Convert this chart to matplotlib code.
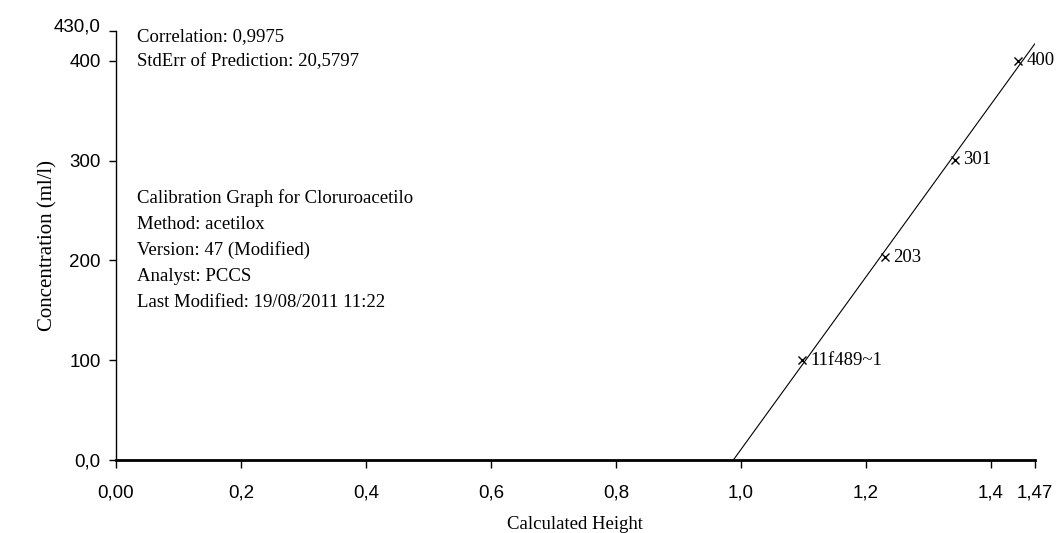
import numpy as np
import matplotlib
matplotlib.use("Agg")
import matplotlib.pyplot as plt

# calibration standards: calculated height vs concentration
heights = [1.097, 1.230, 1.342, 1.443]
concs = [100, 203, 301, 400]
names = ["11f489~1", "203", "301", "400"]

xticks = [0.0, 0.2, 0.4, 0.6, 0.8, 1.0, 1.2, 1.4, 1.47]
xticklabels = ["0,00", "0,2", "0,4", "0,6", "0,8", "1,0", "1,2", "1,4", "1,47"]
yticks = [0, 100, 200, 300, 400, 430]
yticklabels = ["0,0", "100", "200", "300", "400", "430,0"]

info_top = ["Correlation: 0,9975", "StdErr of Prediction: 20,5797"]
info_mid = ["Calibration Graph for Cloruroacetilo", "Method: acetilox",
            "Version: 47 (Modified)", "Analyst: PCCS",
            "Last Modified: 19/08/2011 11:22"]

serif = ["Liberation Serif", "DejaVu Serif"]
sans = ["Liberation Sans", "DejaVu Sans"]

fig = plt.figure(figsize=(10.58, 5.33), dpi=100)
ax = fig.add_axes([0.1096, 0.137, 0.978 - 0.1096, 0.9418 - 0.137])

slope, icpt = np.polyfit(heights, concs, 1)
x0 = -icpt / slope
ax.plot([x0, 1.47], [0, slope * 1.47 + icpt], color="black", lw=0.8)

ax.plot(heights, concs, linestyle="none", marker="x", ms=6, mew=1, color="black")
for h, c, n in zip(heights, concs, names):
    ax.annotate(n, (h, c), xytext=(6, 0), textcoords="offset points",
                ha="left", va="center", fontsize=13.5, family=serif)

ax.set_xlim(0, 1.47)
ax.set_ylim(0, 430)
ax.set_xticks(xticks)
ax.set_xticklabels(xticklabels, family=sans, fontsize=13.5)
ax.set_yticks(yticks)
ax.set_yticklabels(yticklabels, family=sans, fontsize=13.5)
ax.tick_params(axis="x", direction="out", length=6, width=1, pad=12)
ax.tick_params(axis="y", direction="out", length=5, width=1, pad=6)
# top label sits a little above its tick in the reference
ax.get_yticklabels()[-1].set_va("baseline")

for s in ["top", "right"]:
    ax.spines[s].set_visible(False)
ax.spines["bottom"].set_linewidth(2)
ax.spines["left"].set_linewidth(1)

ax.set_xlabel("Calculated Height", family=serif, fontsize=13.5, labelpad=10)
ax.set_ylabel("Concentration (ml/l)", family=serif, fontsize=15, labelpad=-3)

for i, t in enumerate(info_top):
    ax.text(0.023, 0.986 - i * 0.058, t, transform=ax.transAxes,
            ha="left", va="center", fontsize=13.5, family=serif)
for i, t in enumerate(info_mid):
    ax.text(0.023, 0.61 - i * 0.0606, t, transform=ax.transAxes,
            ha="left", va="center", fontsize=13.5, family=serif)

fig.savefig("out.png", dpi=100)
